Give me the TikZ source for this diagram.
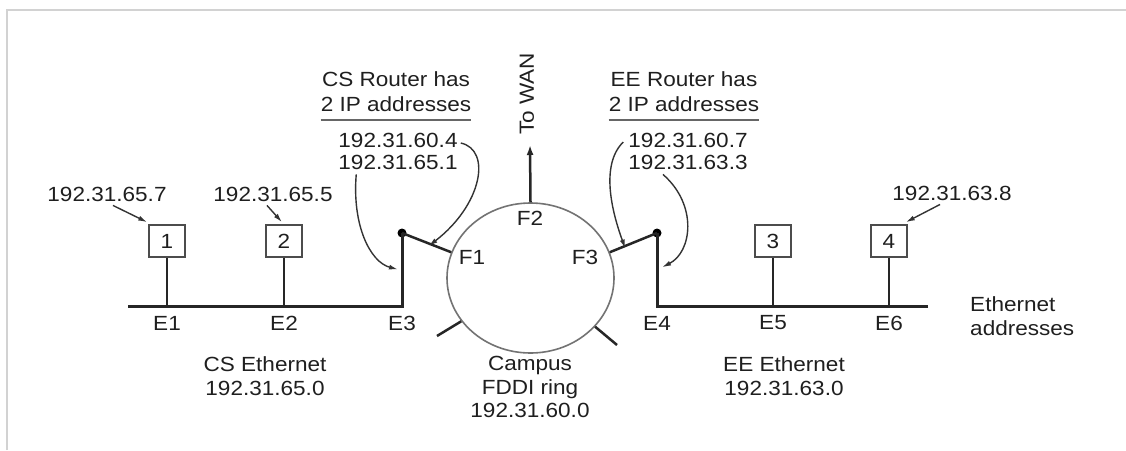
\documentclass[tikz,border=0pt]{standalone}
\usepackage{fontspec}
\setmainfont{Liberation Sans}[FakeStretch=1.1]
\usetikzlibrary{shapes.geometric,arrows.meta,calc}
\begin{document}
\begin{tikzpicture}[x=1pt,y=-1pt,
  txt/.style={font=\fontsize{20.5}{23.5}\selectfont, text=black!88, inner sep=0pt, align=center},
  bus/.style={line width=3pt, draw=black!85, line join=miter},
  station/.style={draw=black!70, line width=1.6pt, minimum width=36pt, minimum height=32pt, inner sep=0pt, font=\fontsize{20.5}{25}\selectfont, text=black!88},
  arr/.style={draw=black!80, line width=1.4pt, -{Latex[length=9pt,width=5pt]}},
  uline/.style={draw=black!60, line width=1.6pt},
  dot/.style={circle, fill=black, inner sep=0pt, minimum size=9pt}]
\useasboundingbox (0,0) rectangle (1126,450);
\fill[white] (0,0) rectangle (1126,450);
% frame shadow
\draw[gray!35, line width=2pt] (7,450) -- (7,10) -- (1126,10);

% ring
\node[ellipse, draw=black!55, line width=1.6pt, minimum width=167pt, minimum height=150pt, inner sep=0pt] (ring) at (530.5,278) {};
\node[txt] (F2) at (530,218) {F2};
\node[txt] (F1) at (472,257) {F1};
\node[txt] (F3) at (585,257) {F3};
\coordinate (wan) at (530,145);
\draw[line width=2.5pt, draw=black!85, -{Latex[length=10pt,width=7pt]}] (ring.north) -- (wan);
\node[txt, rotate=90] (towan) at (527,94) {To WAN};
% ticks
\coordinate (tl) at (437,336);
\coordinate (tr) at (617,345);
\draw[line width=2.5pt, draw=black!85] (ring.212) -- (tl);
\draw[line width=2.5pt, draw=black!85] (ring.323) -- (tr);

% routers
\node[dot] (dotL) at (402,233) {};
\node[dot] (dotR) at (657,233) {};
\coordinate (E3c) at (402,306);
\coordinate (E4c) at (657,306);
\coordinate (busL) at (128,306);
\coordinate (busR) at (928,306);
\draw[bus] (busL) -- (E3c) -- (dotL.center);
\draw[bus] (busR) -- (E4c) -- (dotR.center);
\draw[line width=2.5pt, draw=black!85] (dotL.center) -- (ring.162);
\draw[line width=2.5pt, draw=black!85] (dotR.center) -- (ring.18);

% stations
\node[station, fill=white] (s1) at (167,241) {1};
\node[station, fill=white] (s2) at (284,241) {2};
\node[station, fill=white] (s3) at (773,241) {3};
\node[station, fill=white] (s4) at (889,241) {4};
\foreach \s in {s1,s2,s3,s4} \draw[line width=2.5pt, draw=black!85] (\s.south) -- (\s.south |- busL);

% E labels
\node[txt] (E1) at (167,323) {E1};
\node[txt] (E2) at (284,323) {E2};
\node[txt] (E3) at (402,323) {E3};
\node[txt] (E4) at (657,323) {E4};
\node[txt] (E5) at (773,323) {E5};
\node[txt] (E6) at (889,323) {E6};
\node[txt, align=left, anchor=west] (ethaddr) at (970,316) {Ethernet\\addresses};

% host IP labels
\node[txt] (ip1) at (107,194) {192.31.65.7};
\node[txt] (ip2) at (273,194) {192.31.65.5};
\node[txt] (ip8) at (952,193) {192.31.63.8};
\draw[arr] ([xshift=6pt,yshift=-4pt]ip1.south) -- ([xshift=-1pt,yshift=2pt]s1.north west);
\draw[arr] ([xshift=-6pt,yshift=-4pt]ip2.south) -- ([xshift=-2pt,yshift=2pt]s2.north);
\draw[arr] ([xshift=-12pt,yshift=-4pt]ip8.south) -- ([xshift=-2pt,yshift=2pt]s4.north east);

% router headers
\node[txt, font=\fontsize{20.5}{25}\selectfont] (csH) at (396,92) {CS Router has\\2 IP addresses};
\node[txt, font=\fontsize{20.5}{25}\selectfont] (eeH) at (684,92) {EE Router has\\2 IP addresses};
\draw[uline] ([yshift=-8pt]csH.south west) -- ([yshift=-8pt]csH.south east);
\draw[uline] ([yshift=-8pt]eeH.south west) -- ([yshift=-8pt]eeH.south east);
\node[txt] (csA) at (398,140) {192.31.60.4};
\node[txt] (csB) at (398,162) {192.31.65.1};
\node[txt] (eeA) at (688,140) {192.31.60.7};
\node[txt] (eeB) at (688,162) {192.31.63.3};

\coordinate (f1mid) at ($(dotL.center)!0.52!(ring.162)$);
\coordinate (e3mid) at ($(dotL.center)!0.5!(E3c)$);
\coordinate (f3mid) at ($(ring.18)!0.35!(dotR.center)$);
\coordinate (e4mid) at ($(dotR.center)!0.47!(E4c)$);

\draw[arr] ([xshift=3pt,yshift=-3pt]csA.east) .. controls (492,150) and (482,205) .. ([xshift=1pt,yshift=-3pt]f1mid);
\draw[arr] ([xshift=18pt,yshift=-5pt]csB.south west) .. controls (352,225) and (370,262) .. ([xshift=-4pt]e3mid);
\draw[arr] ([xshift=-5pt,yshift=-2pt]eeA.west) .. controls (600,165) and (612,212) .. ([xshift=-1pt,yshift=-3pt]f3mid);
\draw[arr] ([xshift=-25pt,yshift=-5pt]eeB.south) .. controls (698,205) and (692,252) .. ([xshift=5pt]e4mid);

% network labels
\node[txt] (csnet) at (265,376) {CS Ethernet\\192.31.65.0};
\node[txt] (ring lbl) at (530,387) {Campus\\FDDI ring\\192.31.60.0};
\node[txt] (eenet) at (784,376) {EE Ethernet\\192.31.63.0};
\end{tikzpicture}
\end{document}
